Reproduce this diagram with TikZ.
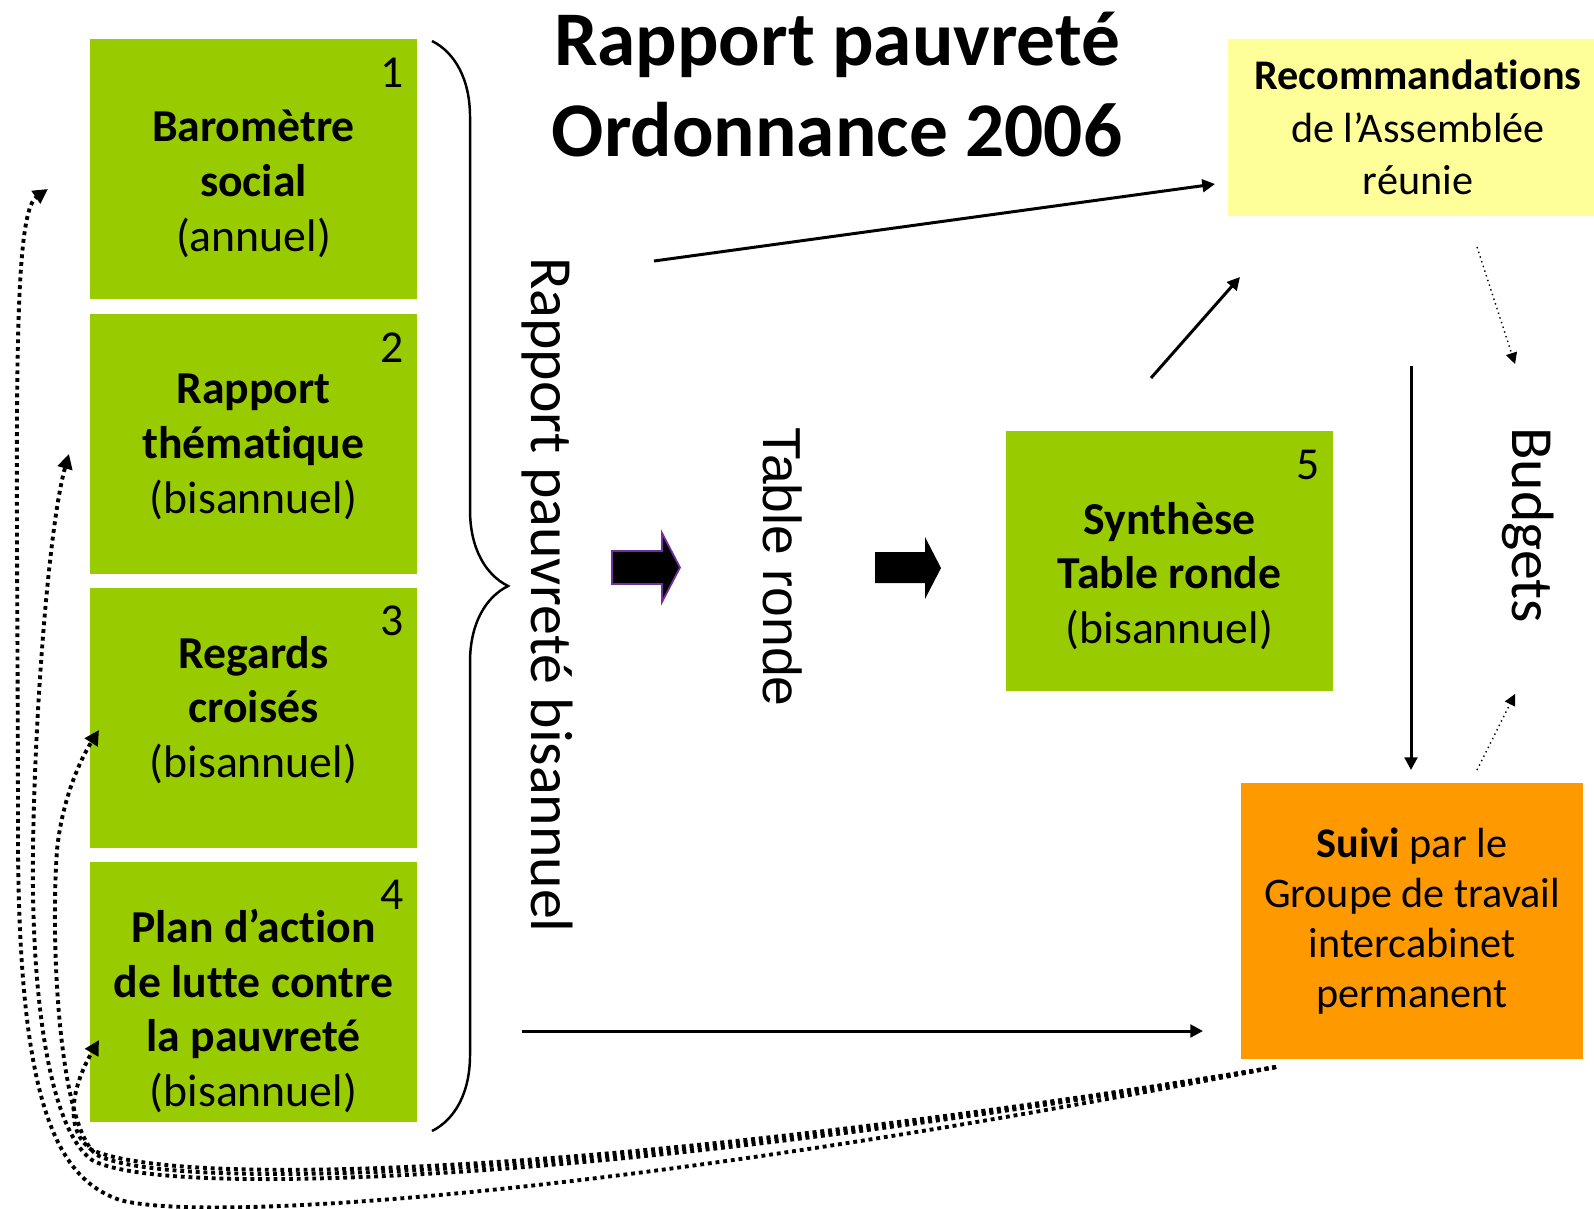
\documentclass[tikz,border=0pt]{standalone}
\usepackage{fontspec}
\setmainfont{Carlito}[Ligatures=CommonOff]
\newfontfamily\arialfont{Liberation Sans}
\usetikzlibrary{arrows.meta,decorations.pathreplacing}
\definecolor{boxgreen}{HTML}{99CC00}
\definecolor{recoyellow}{HTML}{FFFF99}
\definecolor{suiviorange}{HTML}{FF9900}
\definecolor{arrowpurple}{HTML}{7030A0}
\begin{document}
\begin{tikzpicture}
  [x=0.01cm,y=-0.01cm,
   box/.style={fill=boxgreen,minimum width=3.27cm,minimum height=2.6cm,inner sep=0pt},
   boxtext/.style={align=center,inner sep=0pt,font=\fontsize{13}{15.6}\selectfont},
   num/.style={inner sep=0pt,font=\fontsize{13}{15}\selectfont},
   vert/.style={rotate=-90,inner sep=0pt,font=\fontsize{17}{20}\selectfont},
   link/.style={line width=0.85pt,-{Triangle[length=3.6pt,width=3.6pt]}},
   feedback/.style={line width=1.1pt,dash pattern=on 1.1pt off 1.1pt,-{Triangle[length=4.2pt,width=4.2pt]}},
   budget/.style={line width=0.4pt,densely dotted,-{Triangle[length=3.2pt,width=3.2pt]}}]
  \useasboundingbox (0,0) rectangle (1594,1208);

  % title
  \node[align=center,font=\fontsize{22}{25.9}\selectfont\bfseries] (title) at (837,85)
    {Rapport pauvreté\\Ordonnance 2006};

  % the four reports and the synthesis
  \node[box] (b1) at (253.5,169) {};
  \node[box] (b2) at (253.5,444) {};
  \node[box] (b3) at (253.5,718) {};
  \node[box] (b4) at (253.5,992) {};
  \node[box] (b5) at (1169.5,561) {};
  \node[boxtext] (t1) at (253.5,184) {\textbf{Baromètre}\\\textbf{social}\\(annuel)};
  \node[boxtext] (t2) at (253.5,447) {\textbf{Rapport}\\\textbf{thématique}\\(bisannuel)};
  \node[boxtext] (t3) at (253.5,710) {\textbf{Regards}\\\textbf{croisés}\\(bisannuel)};
  \node[boxtext] (t4) at (253.5,1011) {\textbf{Plan d’action}\\\textbf{de lutte contre}\\\textbf{la pauvreté}\\(bisannuel)};
  \node[boxtext] (t5) at (1169.5,576) {\textbf{Synthèse}\\\textbf{Table ronde}\\(bisannuel)};
  \foreach \n/\x/\y in {1/392/73,2/392/348,3/392/621,4/392/895,5/1308/465}
    \node[num] (n\n) at (\x,\y) {\n};

  \node[fill=recoyellow,minimum width=3.8cm,minimum height=1.77cm,align=center,inner sep=0pt,
    font=\fontsize{12}{15}\selectfont] (reco) at (1418,127.5)
    {\textbf{Recommandations}\\de l’Assemblée\\réunie};
  \node[fill=suiviorange,minimum width=3.42cm,minimum height=2.75cm,align=center,inner sep=0pt,
    font=\fontsize{12}{14.2}\selectfont] (suivi) at (1412,921)
    {\textbf{Suivi} par le\\Groupe de travail\\intercabinet\\permanent};

  % vertical labels
  \node[vert] (rpb) at (547,595) {Rapport pauvreté bisannuel};
  \node[vert,font=\fontsize{15.2}{18}\arialfont] (table) at (783,567) {Table ronde};
  \node[vert] (budgets) at (1528,525) {Budgets};

  % brace
  \coordinate (brTop) at (432,41);
  \coordinate (brBot) at (432,1131);
  \draw[line width=0.7pt,decorate,decoration={brace,amplitude=0.76cm}] (brTop) -- (brBot);

  % block arrows
  \filldraw[black,draw=arrowpurple,line width=0.5pt] (612,551) -- (662,551) -- (662,533) -- (680,567.5)
    -- (662,602) -- (662,584) -- (612,584) -- cycle;
  \fill[black] (875,552) -- (925,552) -- (925,537) -- (941,568) -- (925,599) -- (925,583)
    -- (875,583) -- cycle;

  % connectors
  \coordinate (rpOut) at (654,261);
  \coordinate (recoIn) at (1215,184);
  \coordinate (synOut) at (1151,378);
  \coordinate (recoIn2) at (1240,277);
  \coordinate (recoDown) at (1411,366);
  \coordinate (suiviIn) at (1411,770);
  \coordinate (planOut) at (522,1031);
  \coordinate (suiviIn2) at (1203,1031);
  \draw[link] (rpOut) -- (recoIn);
  \draw[link] (synOut) -- (recoIn2);
  \draw[link] (recoDown) -- (suiviIn);
  \draw[link] (planOut) -- (suiviIn2);

  \coordinate (recoOut) at (1477,247);
  \coordinate (budTop) at (1515,364);
  \coordinate (suiviOut) at (1477,770);
  \coordinate (budBot) at (1515,694);
  \draw[budget] (recoOut) -- (budTop);
  \draw[budget] (suiviOut) -- (budBot);

  % feedback to the reports
  \coordinate (fb) at (1276,1067);
  \coordinate (fb1) at (48,189);
  \coordinate (fb2) at (69,454);
  \coordinate (fb3) at (99,730);
  \coordinate (fb4) at (99,1040);
  \draw[feedback] (fb) .. controls (600,1200) and (200,1222) .. (120,1200)
    .. controls (55,1178) and (20,1100) .. (18,850) .. controls (18,450) and (10,215) .. (fb1);
  \draw[feedback] (fb) .. controls (600,1185) and (160,1198) .. (92,1160)
    .. controls (50,1130) and (31,1000) .. (33,850) .. controls (35,700) and (50,520) .. (fb2);
  \draw[feedback] (fb) .. controls (600,1181) and (170,1192) .. (97,1155)
    .. controls (60,1128) and (50,950) .. (57,850) .. controls (62,800) and (80,760) .. (fb3);
  \draw[feedback] (fb) .. controls (600,1177) and (180,1188) .. (92,1150)
    .. controls (65,1132) and (70,1090) .. (fb4);
\end{tikzpicture}
\end{document}
